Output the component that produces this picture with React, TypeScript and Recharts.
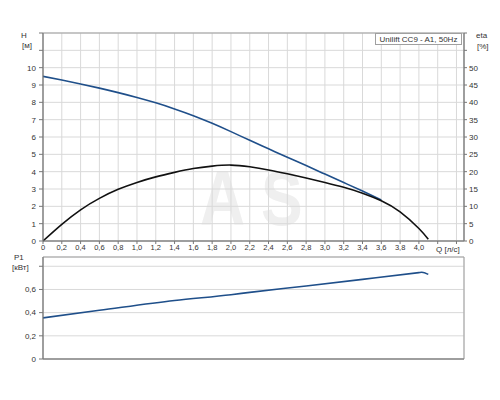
import React from 'react';
import { LineChart, Line, XAxis, YAxis, CartesianGrid, ReferenceArea } from 'recharts';

// Q axis ticks (л/с)
const qTicks = [0, 0.2, 0.4, 0.6, 0.8, 1.0, 1.2, 1.4, 1.6, 1.8, 2.0, 2.2, 2.4, 2.6, 2.8, 3.0, 3.2, 3.4, 3.6, 3.8, 4.0, 4.2, 4.4];
const hTicks = [0, 1, 2, 3, 4, 5, 6, 7, 8, 9, 10, 11, 12];
const etaTicks = [0, 5, 10, 15, 20, 25, 30, 35, 40, 45, 50, 55, 60];
const pTicks = [0, 0.2, 0.4, 0.6, 0.8];

// H curve [м]
const headData = [
  { q: 0, h: 9.5 },
  { q: 0.2, h: 9.29 },
  { q: 0.4, h: 9.06 },
  { q: 0.6, h: 8.82 },
  { q: 0.8, h: 8.56 },
  { q: 1.0, h: 8.28 },
  { q: 1.2, h: 7.97 },
  { q: 1.4, h: 7.62 },
  { q: 1.6, h: 7.23 },
  { q: 1.8, h: 6.79 },
  { q: 2.0, h: 6.31 },
  { q: 2.2, h: 5.81 },
  { q: 2.4, h: 5.32 },
  { q: 2.6, h: 4.83 },
  { q: 2.8, h: 4.35 },
  { q: 3.0, h: 3.86 },
  { q: 3.2, h: 3.37 },
  { q: 3.4, h: 2.88 },
  { q: 3.6, h: 2.37 },
];

// eta curve [%]
const etaData = [
  { q: 0, eta: 0 },
  { q: 0.2, eta: 4.8 },
  { q: 0.4, eta: 9.0 },
  { q: 0.6, eta: 12.3 },
  { q: 0.8, eta: 14.9 },
  { q: 1.0, eta: 16.9 },
  { q: 1.2, eta: 18.5 },
  { q: 1.4, eta: 19.8 },
  { q: 1.6, eta: 20.9 },
  { q: 1.8, eta: 21.6 },
  { q: 2.0, eta: 21.9 },
  { q: 2.2, eta: 21.4 },
  { q: 2.4, eta: 20.5 },
  { q: 2.6, eta: 19.4 },
  { q: 2.8, eta: 18.2 },
  { q: 3.0, eta: 16.9 },
  { q: 3.2, eta: 15.5 },
  { q: 3.4, eta: 13.8 },
  { q: 3.6, eta: 11.6 },
  { q: 3.8, eta: 8.4 },
  { q: 4.0, eta: 3.6 },
  { q: 4.1, eta: 0.5 },
];

// P1 curve [кВт]
const powerData = [
  { q: 0, p: 0.355 },
  { q: 0.6, p: 0.42 },
  { q: 1.4, p: 0.505 },
  { q: 2.0, p: 0.555 },
  { q: 2.2, p: 0.575 },
  { q: 2.8, p: 0.63 },
  { q: 3.4, p: 0.687 },
  { q: 4.0, p: 0.745 },
  { q: 4.03, p: 0.748 },
  { q: 4.1, p: 0.73 },
];

const Q_MAX = 4.48;
const FONT = '"Liberation Sans", Arial, sans-serif';
const BLUE = '#1f4f8a';
const GRID = '#d9d9d9';
const BORDER = '#a0a0a0';
const TEXT = '#333';

const comma = (v: number) => (v === 0 ? '0' : v.toFixed(1).replace('.', ','));
const qLabel = (v: number) => (v > 4.05 ? '' : comma(v));

const tickStyle = { fontSize: 8, fill: TEXT, fontFamily: FONT };

const abs = (left: number, top: number, extra: React.CSSProperties = {}): React.CSSProperties => ({
  position: 'absolute',
  left,
  top,
  fontFamily: FONT,
  fontSize: 8,
  color: TEXT,
  lineHeight: '10px',
  whiteSpace: 'nowrap',
  ...extra,
});

const mark = (left: number): React.CSSProperties => ({
  position: 'absolute',
  left,
  top: 159,
  fontFamily: FONT,
  fontWeight: 'bold',
  fontSize: 78,
  lineHeight: '78px',
  color: '#efefef',
  whiteSpace: 'nowrap',
  transform: 'scaleX(0.8)',
  transformOrigin: 'left top',
});

export default function App() {
  return (
    <div style={{ position: 'absolute', left: 0, top: 0, width: 500, height: 400, background: '#fff' }}>
      {/* watermark */}
      <div style={mark(200)}>A</div>
      <div style={mark(261)}>S</div>

      <div style={{ position: 'absolute', left: 0, top: 0 }}>
        <LineChart width={500} height={255} margin={{ top: 33, right: 0, bottom: 0, left: 0 }} style={{ fontFamily: FONT }}>
          <CartesianGrid stroke={GRID} yAxisId="h" />
          <XAxis
            dataKey="q"
            type="number"
            domain={[0, Q_MAX]}
            ticks={qTicks}
            tickFormatter={qLabel}
            tick={{ ...tickStyle, fontSize: 7.5 }}
            tickSize={3}
            tickMargin={1}
            height={14}
            axisLine={{ stroke: '#777' }}
            tickLine={{ stroke: '#777' }}
            allowDataOverflow
            interval={0}
          />
          <YAxis
            yAxisId="h"
            type="number"
            domain={[0, 12]}
            ticks={hTicks}
            tickFormatter={(v: number) => (v > 10 ? '' : String(v))}
            tick={tickStyle}
            width={43}
            tickSize={4}
            tickMargin={3}
            axisLine={{ stroke: '#777' }}
            tickLine={{ stroke: '#777' }}
            interval={0}
          />
          <YAxis
            yAxisId="eta"
            orientation="right"
            type="number"
            domain={[0, 60]}
            ticks={etaTicks}
            tickFormatter={(v: number) => (v > 50 ? '' : String(v))}
            tick={{ ...tickStyle, textAnchor: 'start' }}
            width={36}
            tickSize={3}
            tickMargin={2}
            axisLine={{ stroke: '#777' }}
            tickLine={{ stroke: '#777' }}
            interval={0}
          />
          <ReferenceArea yAxisId="h" x1={0} x2={Q_MAX} y1={0} y2={12} fill="none" stroke={BORDER} ifOverflow="visible" />
          <Line
            yAxisId="h"
            data={headData}
            dataKey="h"
            type="natural"
            stroke={BLUE}
            strokeWidth={1.6}
            dot={false}
            isAnimationActive={false}
          />
          <Line
            yAxisId="eta"
            data={etaData}
            dataKey="eta"
            type="natural"
            stroke="#111"
            strokeWidth={1.6}
            dot={false}
            isAnimationActive={false}
          />
        </LineChart>
      </div>

      <div style={{ position: 'absolute', left: 0, top: 255 }}>
        <LineChart width={500} height={117} margin={{ top: 2, right: 36, bottom: 10, left: 0 }} style={{ fontFamily: FONT }}>
          <CartesianGrid stroke={GRID} />
          <XAxis
            dataKey="q"
            type="number"
            domain={[0, Q_MAX]}
            ticks={qTicks}
            tick={false}
            tickLine={false}
            height={3}
            axisLine={{ stroke: '#777' }}
            allowDataOverflow
            interval={0}
          />
          <YAxis
            type="number"
            domain={[0, 0.88]}
            ticks={pTicks}
            tickFormatter={(v: number) => (v > 0.7 ? '' : comma(v))}
            tick={tickStyle}
            width={43}
            tickSize={4}
            tickMargin={3}
            axisLine={{ stroke: '#777' }}
            tickLine={{ stroke: '#777' }}
            allowDataOverflow
            interval={0}
          />
          <ReferenceArea x1={0} x2={Q_MAX} y1={0} y2={0.88} fill="none" stroke={BORDER} ifOverflow="visible" />
          <Line
            data={powerData}
            dataKey="p"
            type="monotone"
            stroke={BLUE}
            strokeWidth={1.6}
            dot={false}
            isAnimationActive={false}
          />
        </LineChart>
      </div>

      {/* axis titles */}
      <div style={abs(21, 31)}>H</div>
      <div style={abs(22, 41)}>[м]</div>
      <div style={abs(476, 31)}>eta</div>
      <div style={abs(477, 42)}>[%]</div>
      <div style={abs(436, 245)}>Q [л/с]</div>
      <div style={abs(14, 253)}>P1</div>
      <div style={abs(12, 263)}>[кВт]</div>

      {/* legend box */}
      <div
        style={abs(375, 33, {
          width: 87,
          height: 12,
          lineHeight: '12px',
          border: `1px solid ${BORDER}`,
          background: '#fff',
          textAlign: 'center',
          boxSizing: 'border-box',
        })}
      >
        Unilift CC9 - A1, 50Hz
      </div>
    </div>
  );
}
